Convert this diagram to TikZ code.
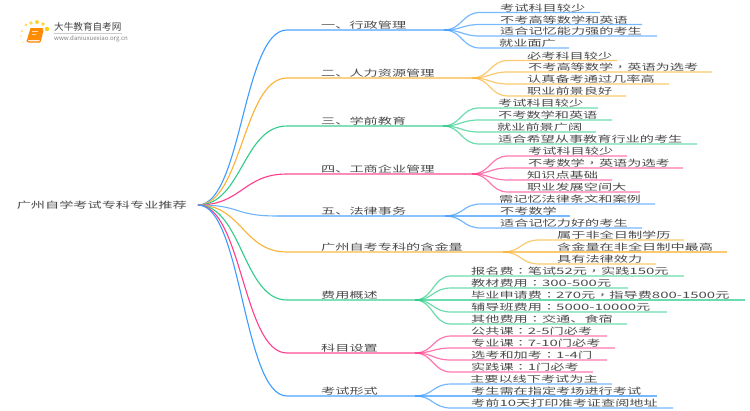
\documentclass[tikz,border=0pt]{standalone}
\usepackage{fontspec}
\setmainfont{Noto Sans CJK SC}[FakeStretch=1.61]
\newfontfamily\logofont{Noto Sans CJK SC}
\newfontfamily\numfont{Noto Sans CJK SC}[FakeStretch=1.70]
\newfontfamily\puncfont{Noto Sans CJK TC}[FakeStretch=1.61]
\newcommand{\nm}[1]{{\numfont #1}}
\newcommand{\cma}{{\puncfont ，}}
\newcommand{\cln}{{\puncfont ：}}
\definecolor{lineblue}{HTML}{3D9BFF}
\definecolor{lineorange}{HTML}{F9B233}
\definecolor{linegreen}{HTML}{2ECC8A}
\definecolor{linepink}{HTML}{FF3D8B}
\definecolor{textgray}{HTML}{4A4A4A}
\tikzset{
  leaf/.style={anchor=base west,inner sep=0pt,yshift=1.5pt,text=textgray,font=\fontsize{8.8}{12}\selectfont},
  branch/.style={leaf},
  roottext/.style={anchor=east,inner ysep=0pt,inner xsep=11pt,text=textgray,font=\fontsize{8.8}{12}\selectfont},
  rootlink/.style={out=0,in=180,distance=44pt},
  leaflink/.style={out=0,in=180,distance=18pt},
  bluec/.style={draw=lineblue,line width=1.1pt},
  orangec/.style={draw=lineorange,line width=1.1pt},
  greenc/.style={draw=linegreen,line width=1.1pt},
  pinkc/.style={draw=linepink,line width=1.1pt},
  blueb/.style={draw=lineblue!60,line width=1.6pt},
  orangeb/.style={draw=lineorange!60,line width=1.6pt},
  greenb/.style={draw=linegreen!60,line width=1.6pt},
  pinkb/.style={draw=linepink!60,line width=1.6pt},
  bluel/.style={draw=lineblue,opacity=0.7,line width=1.2pt},
  orangel/.style={draw=lineorange,opacity=0.7,line width=1.2pt},
  greenl/.style={draw=linegreen,opacity=0.7,line width=1.2pt},
  pinkl/.style={draw=linepink,opacity=0.7,line width=1.2pt},
}
\begin{document}
\begin{tikzpicture}[x=1pt,y=-1pt]
  \useasboundingbox (0,0) rectangle (750,410);
  % logo
  \fill[orange!45!yellow,opacity=0.6] (26,25) circle (1.6);
  \fill[orange!45!yellow,opacity=0.7] (31,23) circle (1.9);
  \fill[orange!45!yellow,opacity=0.8] (37,22) circle (2);
  \fill[orange!45!yellow,opacity=0.8] (43,24) circle (1.9);
  \fill[orange!45!yellow,opacity=0.9] (47,29) circle (2.2);
  \fill[orange!45!yellow,opacity=0.5] (22,31) circle (1.4);
  \fill[orange!45!yellow,opacity=0.4] (21,36) circle (1.2);
  \fill[orange!45!yellow,opacity=0.3] (23,42) circle (1);
  \fill[orange!90!yellow] (30.5,28) -- (43,28) -- (40,40) -- (27,40) -- cycle;
  \draw[orange,line width=1.2pt,rounded corners=1pt] (27,40) -- (28,42) -- (40,42) -- (43,30);
  \fill[white,opacity=0.7] (32,31) rectangle (38,32);
  \fill[white,opacity=0.7] (31.5,33.5) rectangle (36,34.3);
  \node[inner sep=0pt,anchor=west,text=textgray!90!black,font=\logofont\fontsize{9.6}{11}\selectfont] (logotitle) at (54,27) {大牛教育自考网};
  \draw[gray!40,very thin] (54,33) -- (122,33);
  \node[inner sep=0pt,anchor=west,text=gray,font=\logofont\fontsize{6.1}{7}\selectfont] (logourl) at (54,39) {www.daniuxuexiao.org.cn};
  % root
  \node[roottext] (root) at (198,205) {广州自学考试专科专业推荐};
  % first branch
  \coordinate (as) at (287,30); \coordinate (a) at (444,30);
  \node[branch] (at) at (321,30) {一、行政管理};
  \draw[bluec] (root.east) to[rootlink] (as);
  \draw[blueb] (as) -- (a);
  \coordinate (a1s) at (480,12.5); \coordinate (a1e) at (600,12.5);
  \coordinate (a2s) at (480,24.5); \coordinate (a2e) at (642,24.5);
  \coordinate (a3s) at (480,36); \coordinate (a3e) at (657,36);
  \coordinate (a4s) at (480,48); \coordinate (a4e) at (569,48);
  \node[leaf] (a1) at (500,12.5) {考试科目较少};
  \node[leaf] (a2) at (500,24.5) {不考高等数学和英语};
  \node[leaf] (a3) at (500,36) {适合记忆能力强的考生};
  \node[leaf] (a4) at (499,48) {就业面广};
  \draw[bluel] (a) to[leaflink] (a1s) -- (a1e);
  \draw[bluel] (a) to[leaflink] (a2s) -- (a2e);
  \draw[bluel] (a) to[leaflink] (a3s) -- (a3e);
  \draw[bluel] (a) to[leaflink] (a4s) -- (a4e);
  % second branch
  \coordinate (bs) at (287,78); \coordinate (b) at (472,78);
  \node[branch] (bt) at (321,78) {二、人力资源管理};
  \draw[orangec] (root.east) to[rootlink] (bs);
  \draw[orangeb] (bs) -- (b);
  \coordinate (b1s) at (508,60.5); \coordinate (b1e) at (617,60.5);
  \coordinate (b2s) at (508,72); \coordinate (b2e) at (712,72);
  \coordinate (b3s) at (508,84); \coordinate (b3e) at (669,84);
  \coordinate (b4s) at (508,96); \coordinate (b4e) at (626,96);
  \node[leaf] (b1) at (527,60.5) {必考科目较少};
  \node[leaf] (b2) at (528,72) {不考高等数学\cma 英语为选考};
  \node[leaf] (b3) at (527,84) {认真备考通过几率高};
  \node[leaf] (b4) at (527,96) {职业前景良好};
  \draw[orangel] (b) to[leaflink] (b1s) -- (b1e);
  \draw[orangel] (b) to[leaflink] (b2s) -- (b2e);
  \draw[orangel] (b) to[leaflink] (b3s) -- (b3e);
  \draw[orangel] (b) to[leaflink] (b4s) -- (b4e);
  % third branch
  \coordinate (cs) at (287,126); \coordinate (c) at (443,126);
  \node[branch] (ct) at (321,126) {三、学前教育};
  \draw[greenc] (root.east) to[rootlink] (cs);
  \draw[greenb] (cs) -- (c);
  \coordinate (c1s) at (479,108); \coordinate (c1e) at (598,108);
  \coordinate (c2s) at (479,120); \coordinate (c2e) at (612,120);
  \coordinate (c3s) at (479,132); \coordinate (c3e) at (596,132);
  \coordinate (c4s) at (479,144); \coordinate (c4e) at (697,144);
  \node[leaf] (c1) at (498,108) {考试科目较少};
  \node[leaf] (c2) at (498,120) {不考数学和英语};
  \node[leaf] (c3) at (497,132) {就业前景广阔};
  \node[leaf] (c4) at (498,144) {适合希望从事教育行业的考生};
  \draw[greenl] (c) to[leaflink] (c1s) -- (c1e);
  \draw[greenl] (c) to[leaflink] (c2s) -- (c2e);
  \draw[greenl] (c) to[leaflink] (c3s) -- (c3e);
  \draw[greenl] (c) to[leaflink] (c4s) -- (c4e);
  % fourth branch
  \coordinate (ds) at (287,174); \coordinate (d) at (472,174);
  \node[branch] (dt) at (321,174) {四、工商企业管理};
  \draw[pinkc] (root.east) to[rootlink] (ds);
  \draw[pinkb] (ds) -- (d);
  \coordinate (d1s) at (508,156); \coordinate (d1e) at (627,156);
  \coordinate (d2s) at (508,168); \coordinate (d2e) at (683,168);
  \coordinate (d3s) at (508,180); \coordinate (d3e) at (612,180);
  \coordinate (d4s) at (508,192); \coordinate (d4e) at (640,192);
  \node[leaf] (d1) at (528,156) {考试科目较少};
  \node[leaf] (d2) at (528,168) {不考数学\cma 英语为选考};
  \node[leaf] (d3) at (527,180) {知识点基础};
  \node[leaf] (d4) at (527,192) {职业发展空间大};
  \draw[pinkl] (d) to[leaflink] (d1s) -- (d1e);
  \draw[pinkl] (d) to[leaflink] (d2s) -- (d2e);
  \draw[pinkl] (d) to[leaflink] (d3s) -- (d3e);
  \draw[pinkl] (d) to[leaflink] (d4s) -- (d4e);
  % fifth branch
  \coordinate (es) at (277,216); \coordinate (e) at (445,216);
  \node[branch] (et) at (321,216) {五、法律事务};
  \draw[bluec,draw=lineblue!75] (root.east) to[rootlink] (es);
  \draw[blueb] (es) -- (e);
  \coordinate (e1s) at (481,204); \coordinate (e1e) at (655,204);
  \coordinate (e2s) at (481,216); \coordinate (e2e) at (570,216);
  \coordinate (e3s) at (481,228); \coordinate (e3e) at (642,228);
  \node[leaf] (e1) at (499,204) {需记忆法律条文和案例};
  \node[leaf] (e2) at (500,216) {不考数学};
  \node[leaf] (e3) at (500,228) {适合记忆力好的考生};
  \draw[bluel] (e) to[leaflink] (e1s) -- (e1e);
  \draw[bluel] (e) to[leaflink] (e2s) -- (e2e);
  \draw[bluel] (e) to[leaflink] (e3s) -- (e3e);
  % sixth branch
  \coordinate (fs) at (287,252); \coordinate (f) at (503,252);
  \node[branch] (ft) at (321,252) {广州自考专科的含金量};
  \draw[orangec] (root.east) to[rootlink] (fs);
  \draw[orangeb] (fs) -- (f);
  \coordinate (f1s) at (539,240); \coordinate (f1e) at (684,240);
  \coordinate (f2s) at (539,252); \coordinate (f2e) at (727,252);
  \coordinate (f3s) at (539,264); \coordinate (f3e) at (656,264);
  \node[leaf] (f1) at (557,240) {属于非全日制学历};
  \node[leaf] (f2) at (557,252) {含金量在非全日制中最高};
  \node[leaf] (f3) at (557,264) {具有法律效力};
  \draw[orangel] (f) to[leaflink] (f1s) -- (f1e);
  \draw[orangel] (f) to[leaflink] (f2s) -- (f2e);
  \draw[orangel] (f) to[leaflink] (f3s) -- (f3e);
  % seventh branch
  \coordinate (gs) at (287,300); \coordinate (g) at (415,300);
  \node[branch] (gt) at (321,300) {费用概述};
  \draw[greenc] (root.east) to[rootlink] (gs);
  \draw[greenb] (gs) -- (g);
  \coordinate (g1s) at (451,276); \coordinate (g1e) at (684,276);
  \coordinate (g2s) at (451,288); \coordinate (g2e) at (628,288);
  \coordinate (g3s) at (451,300); \coordinate (g3e) at (745,300);
  \coordinate (g4s) at (451,312); \coordinate (g4e) at (667,312);
  \coordinate (g5s) at (451,324); \coordinate (g5e) at (627,324);
  \node[leaf] (g1) at (471,276) {报名费\cln 笔试\nm{52}元\cma 实践\nm{150}元};
  \node[leaf] (g2) at (471,288) {教材费用\cln\nm{300-500}元};
  \node[leaf] (g3) at (471,300) {毕业申请费\cln\nm{270}元\cma 指导费\nm{800-1500}元};
  \node[leaf] (g4) at (471,312) {辅导班费用\cln\nm{5000-10000}元};
  \node[leaf] (g5) at (471,324) {其他费用\cln 交通、食宿};
  \draw[greenl] (g) to[leaflink] (g1s) -- (g1e);
  \draw[greenl] (g) to[leaflink] (g2s) -- (g2e);
  \draw[greenl] (g) to[leaflink] (g3s) -- (g3e);
  \draw[greenl] (g) to[leaflink] (g4s) -- (g4e);
  \draw[greenl] (g) to[leaflink] (g5s) -- (g5e);
  % eighth branch
  \coordinate (hs) at (287,353); \coordinate (h) at (415,353);
  \node[branch] (ht) at (321,353) {科目设置};
  \draw[pinkc] (root.east) to[rootlink] (hs);
  \draw[pinkb] (hs) -- (h);
  \coordinate (h1s) at (451,336); \coordinate (h1e) at (607,336);
  \coordinate (h2s) at (451,348); \coordinate (h2e) at (615,348);
  \coordinate (h3s) at (451,360); \coordinate (h3e) at (607,360);
  \coordinate (h4s) at (451,372); \coordinate (h4e) at (593,372);
  \node[leaf] (h1) at (471,336) {公共课\cln\nm{2-5}门必考};
  \node[leaf] (h2) at (471,348) {专业课\cln\nm{7-10}门必考};
  \node[leaf] (h3) at (471,360) {选考和加考\cln\nm{1-4}门};
  \node[leaf] (h4) at (471,372) {实践课\cln\nm{1}门必考};
  \draw[pinkl] (h) to[leaflink] (h1s) -- (h1e);
  \draw[pinkl] (h) to[leaflink] (h2s) -- (h2e);
  \draw[pinkl] (h) to[leaflink] (h3s) -- (h3e);
  \draw[pinkl] (h) to[leaflink] (h4s) -- (h4e);
  % ninth branch
  \coordinate (is) at (287,396); \coordinate (i) at (415,396);
  \node[branch] (it) at (321,396) {考试形式};
  \draw[bluec] (root.east) to[rootlink] (is);
  \draw[blueb] (is) -- (i);
  \coordinate (i1s) at (451,384); \coordinate (i1e) at (612,384);
  \coordinate (i2s) at (451,396); \coordinate (i2e) at (657,396);
  \coordinate (i3s) at (451,408); \coordinate (i3e) at (673,408);
  \node[leaf] (i1) at (470,384) {主要以线下考试为主};
  \node[leaf] (i2) at (471,396) {考生需在指定考场进行考试};
  \node[leaf] (i3) at (471,408) {考前\nm{10}天打印准考证查阅地址};
  \draw[bluel] (i) to[leaflink] (i1s) -- (i1e);
  \draw[bluel] (i) to[leaflink] (i2s) -- (i2e);
  \draw[bluel] (i) to[leaflink] (i3s) -- (i3e);
\end{tikzpicture}
\end{document}
